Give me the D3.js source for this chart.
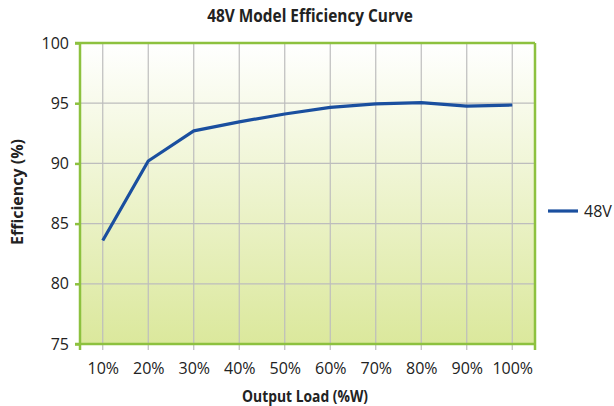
<!DOCTYPE html>
<html>
<head>
<meta charset="utf-8">
<script src="https://cdn.jsdelivr.net/npm/d3@7"></script>
<style>
  html, body { margin: 0; padding: 0; background: #fff; }
  svg { display: block; }
</style>
</head>
<body>
<svg id="chart" width="614" height="406"></svg>
<script>
const categories = ["10%", "20%", "30%", "40%", "50%", "60%", "70%", "80%", "90%", "100%"];
const efficiency48V = [83.6, 90.2, 92.7, 93.45, 94.1, 94.65, 94.95, 95.05, 94.75, 94.85];
const yTicks = [75, 80, 85, 90, 95, 100];
const seriesName = "48V";
const titleText = "48V Model Efficiency Curve";
const xTitle = "Output Load (%W)";
const yTitle = "Efficiency (%)";

(function () {
const svg = d3.select("#chart");
const pL = 80, pR = 535, pT = 43, pB = 344;
const green = "#8dc13f";
const gridColor = "#bdbdbd";
const blue = "#1a4f9f";
const font = "'Open Sans', Arial, sans-serif";

const x = d3.scalePoint().domain(categories).range([pL, pR]).padding(0.5);
const y = d3.scaleLinear().domain([75, 100]).range([pB, pT]);

const defs = svg.append("defs");
const grad = defs.append("linearGradient").attr("id", "bg").attr("x1", 0).attr("y1", 0).attr("x2", 0).attr("y2", 1);
grad.append("stop").attr("offset", "0%").attr("stop-color", "#ffffff");
grad.append("stop").attr("offset", "100%").attr("stop-color", "#dbe89c");
svg.append("rect").attr("x", pL).attr("y", pT).attr("width", pR - pL).attr("height", pB - pT).attr("fill", "url(#bg)");

svg.append("g").selectAll("line").data(yTicks.filter(d => d > 75 && d < 100)).join("line")
  .attr("x1", pL).attr("x2", pR).attr("y1", d => y(d)).attr("y2", d => y(d))
  .attr("stroke", gridColor).attr("stroke-width", 1.2);

svg.append("g").selectAll("line").data(categories).join("line")
  .attr("x1", d => x(d)).attr("x2", d => x(d)).attr("y1", pT).attr("y2", pB + 6)
  .attr("stroke", gridColor).attr("stroke-width", 1.2);

const xAxis = d3.axisBottom(x).tickSize(0).tickPadding(0);
const gx = svg.append("g").attr("transform", `translate(0,${pB})`).call(xAxis);
gx.select(".domain").remove();
gx.selectAll("text").attr("dy", null).attr("y", 30).attr("font-family", font).attr("font-size", 16).attr("fill", "#222");

const yAxis = d3.axisLeft(y).tickValues(yTicks).tickSize(5).tickPadding(6);
const gy = svg.append("g").attr("transform", `translate(${pL},0)`).call(yAxis);
gy.select(".domain").remove();
gy.selectAll("line").attr("stroke", green).attr("stroke-width", 2.5);
gy.selectAll("text").attr("font-family", font).attr("font-size", 16).attr("fill", "#222");

svg.append("line").attr("x1", pL - 5).attr("x2", pR).attr("y1", pT).attr("y2", pT).attr("stroke", green).attr("stroke-width", 2.5);
svg.append("line").attr("x1", pL - 5).attr("x2", pR).attr("y1", pB).attr("y2", pB).attr("stroke", green).attr("stroke-width", 2.5);
svg.append("line").attr("x1", pL).attr("x2", pL).attr("y1", pT).attr("y2", pB + 6).attr("stroke", green).attr("stroke-width", 2.5);
svg.append("line").attr("x1", pR).attr("x2", pR).attr("y1", pT).attr("y2", pB + 6).attr("stroke", green).attr("stroke-width", 2.5);

const line = d3.line().x((d, i) => x(categories[i])).y(d => y(d));
svg.append("path").datum(efficiency48V).attr("d", line)
  .attr("fill", "none").attr("stroke", blue).attr("stroke-width", 3.2).attr("stroke-linejoin", "round");

svg.append("line").attr("x1", 548).attr("x2", 578).attr("y1", 211).attr("y2", 211).attr("stroke", blue).attr("stroke-width", 3.2);
svg.append("text").attr("x", 584).attr("y", 217).attr("font-family", font).attr("font-size", 16).attr("fill", "#222").text(seriesName);

svg.append("text").attr("transform", "translate(310,22) scale(0.88,1)").attr("text-anchor", "middle")
  .attr("font-family", font).attr("font-weight", "bold").attr("font-size", 17.5).attr("fill", "#222").text(titleText);
svg.append("text").attr("transform", "translate(305,402) scale(0.84,1)").attr("text-anchor", "middle")
  .attr("font-family", font).attr("font-weight", "bold").attr("font-size", 16.5).attr("fill", "#222").text(xTitle);
svg.append("text").attr("transform", "translate(23,192) rotate(-90)").attr("text-anchor", "middle")
  .attr("font-family", font).attr("font-weight", "bold").attr("font-size", 16).attr("fill", "#222").text(yTitle);
})();
</script>
</body>
</html>
